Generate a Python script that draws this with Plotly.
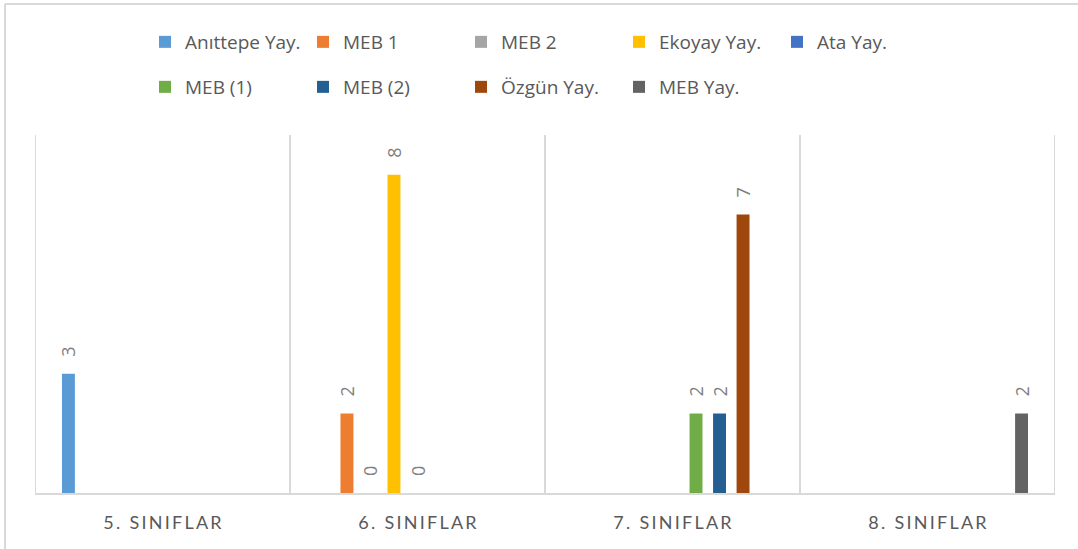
import plotly.graph_objects as go

categories = ["5. SINIFLAR", "6. SINIFLAR", "7. SINIFLAR", "8. SINIFLAR"]

series_names = ["Anıttepe Yay.", "MEB 1", "MEB 2", "Ekoyay Yay.", "Ata Yay.",
                "MEB (1)", "MEB (2)", "Özgün Yay.", "MEB Yay."]

anittepe = [3, None, None, None]
meb_1 = [None, 2, None, None]
meb_2 = [None, 0, None, None]
ekoyay = [None, 8, None, None]
ata = [None, 0, None, None]
meb_p1 = [None, None, 2, None]
meb_p2 = [None, None, 2, None]
ozgun = [None, None, 7, None]
meb_yay = [None, None, None, 2]

series_values = [anittepe, meb_1, meb_2, ekoyay, ata, meb_p1, meb_p2, ozgun, meb_yay]

colors = ["#5B9BD5", "#ED7D31", "#A5A5A5", "#FFC000", "#4472C4",
          "#70AD47", "#255E91", "#9E480E", "#636363"]

W, H = 1078, 549
ML, MR, MT, MB = 35, 23, 135, 56
PW, PH = W - ML - MR, H - MT - MB

def px_x(px):
    return (px - ML) / PW

def px_y(py):
    return (H - MB - py) / PH

GRAY = "#595959"

def spaced(s):
    return "\u2009".join(list(s))

fig = go.Figure()
for i, (name, vals, col) in enumerate(zip(series_names, series_values, colors)):
    fig.add_trace(go.Bar(
        name=name,
        x=categories,
        y=vals,
        marker=dict(color=col, line=dict(width=0)),
        text=[None if v is None else str(v) for v in vals],
        texttemplate="\u00a0\u00a0\u00a0%{text}",
        textposition="outside",
        textangle=-90,
        constraintext="none",
        textfont=dict(family="Open Sans", size=18, color="#7F7F7F"),
        cliponaxis=False,
        legend="legend" if i < 5 else "legend2",
        hoverinfo="skip",
    ))

shapes = []
for xv in [-0.5, 0.5, 1.5, 2.5, 3.5]:
    shapes.append(dict(type="line", xref="x", yref="paper", x0=xv, x1=xv, y0=0, y1=1,
                       line=dict(color="#D9D9D9", width=2), layer="below"))
# outer chart border (top and left)
shapes.append(dict(type="line", xref="paper", yref="paper", x0=px_x(5), x1=px_x(1090),
                   y0=px_y(4), y1=px_y(4), line=dict(color="#D9D9D9", width=2)))
shapes.append(dict(type="line", xref="paper", yref="paper", x0=px_x(5), x1=px_x(5),
                   y0=px_y(4), y1=px_y(560), line=dict(color="#D9D9D9", width=2)))

legend_common = dict(
    orientation="h",
    xanchor="left",
    yanchor="middle",
    x=px_x(145),
    font=dict(family="Open Sans", size=19, color=GRAY),
    entrywidthmode="pixels",
    entrywidth=113,
    bgcolor="rgba(0,0,0,0)",
    borderwidth=0,
    traceorder="normal",
)

fig.update_layout(
    width=W, height=H,
    margin=dict(l=ML, r=MR, t=MT, b=MB, pad=0),
    paper_bgcolor="white",
    plot_bgcolor="white",
    barmode="group",
    bargap=0.17,
    bargroupgap=0.45,
    showlegend=True,
    legend=dict(legend_common, y=px_y(42)),
    legend2=dict(legend_common, y=px_y(87)),
    xaxis=dict(
        type="category",
        tickvals=categories,
        ticktext=[spaced(c) for c in categories],
        tickfont=dict(family="Lato", size=18, color=GRAY),
        showgrid=False,
        showline=True,
        linecolor="#D9D9D9",
        linewidth=2,
        ticks="",
        range=[-0.5, 3.5],
        ticklabelstandoff=12,
        zeroline=False,
    ),
    yaxis=dict(
        range=[0, 9],
        showgrid=False,
        showticklabels=False,
        zeroline=False,
        showline=False,
        ticks="",
    ),
    shapes=shapes,
)

fig.write_html("out.html", config={"displayModeBar": False},
               post_script="document.body.style.margin='0px';")
